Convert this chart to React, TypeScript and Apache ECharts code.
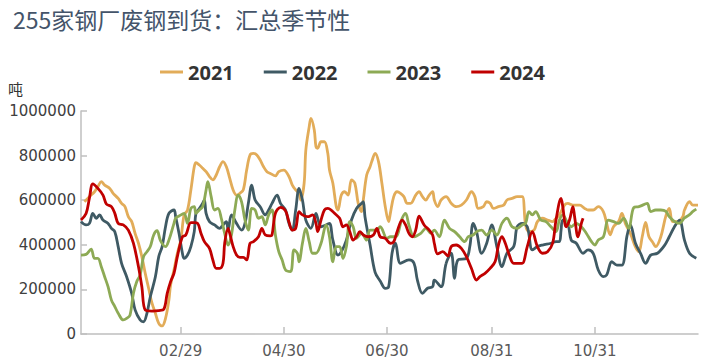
import React, { useEffect, useRef } from 'react';
import * as echarts from 'echarts';

const MONTH_DAYS = [31, 29, 31, 30, 31, 30, 31, 31, 30, 31, 30, 31];
const categories: string[] = [];
MONTH_DAYS.forEach((n, m) => {
  for (let d = 1; d <= n; d++) {
    categories.push(`${String(m + 1).padStart(2, '0')}/${String(d).padStart(2, '0')}`);
  }
});
const tickLabels = ['02/29', '04/30', '06/30', '08/31', '10/31'];
const seriesNames = ['2021', '2022', '2023', '2024'];

// day-of-year index (0 = 01/01) and values (tonnes)
const days2021 = [2,5,8,10,12,14,17,19,22,24,26,28,30,32,34,36,38,40,42,44,46,48,50,52,53,55,57,59,61,63,65,67,68,70,72,74,76,78,80,82,84,86,88,90,92,94,96,98,100,102,104,106,108,110,112,115,117,120,123,125,127,129,130,132,133,135,136,138,139,140,142,144,146,147,149,151,152,154,156,158,160,162,164,166,167,169,171,172,174,176,178,180,182,183,185,187,189,191,193,195,198,200,202,204,206,208,209,211,213,216,219,222,225,228,231,233,235,238,240,242,244,247,250,252,255,258,261,263,265,268,270,273,276,279,281,283,286,288,291,295,298,300,303,306,309,311,313,315,318,320,322,325,328,330,332,334,336,338,340,343,346,348,350,353,356,357,360,362,365];
const values2021 = [593000,616000,638000,661000,683000,668000,653000,631000,608000,586000,571000,526000,504000,451000,407000,347000,272000,205000,138000,93000,48000,36000,70000,152000,220000,287000,362000,420000,534000,556000,646000,750000,768000,758000,743000,728000,706000,691000,713000,750000,773000,750000,698000,646000,623000,631000,646000,735000,803000,810000,803000,780000,750000,728000,720000,709000,728000,735000,706000,668000,646000,631000,601000,676000,825000,930000,967000,915000,840000,833000,862000,862000,810000,735000,676000,571000,556000,623000,638000,623000,691000,676000,586000,549000,601000,713000,750000,773000,810000,773000,676000,571000,504000,541000,616000,638000,631000,616000,586000,586000,623000,638000,616000,601000,623000,638000,601000,571000,601000,616000,586000,571000,578000,601000,638000,616000,563000,571000,593000,586000,563000,571000,578000,601000,608000,616000,616000,489000,459000,466000,504000,519000,511000,504000,519000,534000,578000,586000,578000,578000,563000,556000,556000,571000,549000,496000,445000,481000,504000,541000,496000,451000,390000,369000,436000,500000,436000,414000,392000,436000,530000,563000,504000,504000,526000,556000,593000,578000,578000];

const days2022 = [0,3,5,7,9,11,13,16,18,20,22,24,27,30,32,35,37,39,41,44,46,48,50,52,55,56,58,60,61,63,65,67,68,70,72,73,74,76,79,82,84,86,87,89,92,95,97,99,101,103,106,109,111,113,116,118,121,123,125,127,129,131,133,136,139,140,142,145,147,149,152,154,157,160,163,166,167,168,171,174,177,180,182,184,186,189,194,197,199,202,205,208,209,213,216,219,221,223,228,230,232,234,237,240,243,246,249,252,256,258,261,264,267,270,273,278,281,283,284,285,288,290,293,297,300,303,306,309,311,314,317,320,323,325,328,331,334,337,341,345,348,351,354,357,360,364];
const values2022 = [504000,489000,496000,541000,519000,534000,511000,496000,474000,459000,392000,317000,257000,182000,108000,63000,55000,93000,167000,257000,347000,392000,481000,541000,556000,526000,451000,362000,339000,354000,392000,459000,541000,563000,586000,601000,541000,504000,489000,474000,489000,504000,466000,534000,496000,466000,496000,586000,668000,601000,571000,534000,556000,586000,623000,586000,556000,496000,466000,556000,653000,601000,511000,474000,541000,519000,481000,489000,496000,421000,354000,369000,421000,511000,563000,586000,593000,526000,400000,276000,238000,205000,212000,362000,407000,317000,332000,317000,242000,182000,205000,212000,242000,212000,317000,362000,250000,332000,339000,392000,496000,459000,362000,407000,489000,392000,302000,362000,392000,481000,496000,481000,377000,392000,399000,407000,414000,414000,466000,511000,496000,421000,407000,362000,377000,362000,287000,257000,265000,324000,309000,309000,440000,489000,407000,362000,317000,354000,362000,395000,436000,480000,511000,421000,362000,340000];

const days2023 = [0,3,6,8,10,12,14,16,18,20,22,25,27,29,31,33,35,37,39,41,43,45,47,50,52,55,56,58,61,63,65,67,68,70,72,74,75,77,79,81,83,85,87,89,91,93,95,97,99,101,103,105,107,109,111,113,115,117,119,121,124,126,128,129,131,133,135,137,139,142,145,147,149,151,153,155,157,159,161,163,166,169,171,175,177,181,183,186,190,192,194,197,201,204,207,209,212,215,218,221,224,227,229,232,234,237,240,243,246,249,252,255,258,261,263,265,267,269,272,275,278,281,283,285,288,290,293,296,299,302,304,306,309,312,315,318,321,324,327,330,333,335,337,340,343,346,348,351,354,357,360,362,364];
const values2023 = [354000,357000,380000,339000,339000,302000,257000,212000,152000,123000,93000,63000,70000,85000,182000,235000,265000,347000,369000,392000,444000,463000,419000,392000,421000,496000,519000,529000,541000,496000,563000,571000,541000,556000,571000,646000,683000,616000,556000,563000,519000,451000,399000,444000,556000,623000,593000,511000,466000,563000,556000,519000,526000,489000,534000,556000,444000,369000,332000,287000,280000,377000,362000,324000,407000,474000,414000,362000,362000,407000,489000,436000,324000,392000,392000,339000,392000,504000,481000,429000,451000,421000,466000,466000,481000,429000,436000,436000,519000,541000,489000,436000,451000,474000,451000,466000,436000,511000,474000,459000,436000,414000,436000,444000,459000,466000,444000,466000,444000,496000,519000,481000,474000,489000,496000,549000,534000,549000,511000,504000,481000,459000,511000,534000,496000,481000,496000,481000,451000,414000,399000,421000,436000,511000,504000,496000,519000,474000,567000,571000,580000,586000,549000,556000,556000,550000,526000,505000,496000,520000,535000,550000,560000];

const days2024 = [0,3,5,7,10,13,15,18,20,22,25,28,31,34,36,38,42,46,49,51,53,55,57,60,62,65,67,69,71,73,76,78,80,82,84,85,87,88,90,92,94,96,98,100,102,105,107,109,112,113,115,118,121,123,125,127,129,131,134,137,139,140,142,144,146,148,150,153,155,157,159,161,163,165,167,170,173,175,177,180,183,185,187,190,192,194,196,198,200,203,206,208,209,211,214,217,219,222,225,228,231,234,236,239,242,245,247,249,251,253,256,259,261,264,267,270,273,276,279,281,284,285,287,289,291,292,294,296,297];
const values2024 = [511000,540000,610000,673000,653000,623000,583000,571000,541000,496000,489000,466000,407000,302000,212000,108000,103000,105000,111000,182000,235000,272000,347000,436000,444000,499000,499000,496000,451000,414000,384000,332000,294000,294000,317000,407000,474000,451000,392000,354000,344000,344000,332000,407000,414000,436000,474000,444000,440000,444000,541000,568000,552000,503000,466000,474000,549000,534000,526000,534000,496000,459000,511000,556000,563000,556000,541000,519000,481000,489000,459000,421000,436000,459000,444000,436000,444000,474000,436000,429000,407000,414000,459000,511000,489000,451000,436000,466000,529000,489000,466000,444000,407000,359000,369000,350000,392000,399000,384000,347000,294000,242000,257000,272000,294000,325000,400000,436000,407000,362000,317000,317000,317000,392000,459000,392000,362000,369000,407000,511000,608000,571000,481000,511000,571000,526000,436000,496000,519000];

const seriesDays = [days2021, days2022, days2023, days2024];
const seriesValues = [values2021, values2022, values2023, values2024];
const seriesColors = ['#E2AC59', '#3F5A64', '#8DAA55', '#C00000'];

const showTick = (_i: number, v: string) => tickLabels.includes(v);

export default function App() {
  const ref = useRef<HTMLDivElement>(null);
  useEffect(() => {
    if (!ref.current) return;
    const chart = echarts.init(ref.current, undefined, { renderer: 'svg' });
    chart.setOption({
      animation: false,
      title: {
        text: '255家钢厂废钢到货：汇总季节性',
        left: 8,
        top: 2,
        textStyle: { fontSize: 23, fontWeight: 'normal', color: '#44546A', fontFamily: '"Noto Sans CJK SC", sans-serif' },
      },
      legend: {
        data: seriesNames,
        top: 57,
        left: 'center',
        icon: 'rect',
        itemWidth: 23,
        itemHeight: 3,
        itemGap: 30,
        textStyle: { fontSize: 20, fontWeight: 'bold', color: '#333333', fontFamily: '"Open Sans", sans-serif' },
      },
      graphic: [
        {
          type: 'text',
          left: 8,
          top: 81,
          style: { text: '吨', fontSize: 15, fill: '#333333', fontFamily: '"Noto Sans CJK SC", sans-serif' },
        },
      ],
      grid: { left: 81, right: 7, top: 111, bottom: 26, containLabel: false },
      xAxis: {
        type: 'category',
        data: categories,
        boundaryGap: false,
        axisLine: { lineStyle: { color: '#BFBFBF', width: 1.5 } },
        axisTick: { inside: true, length: 7, interval: showTick, lineStyle: { color: '#BFBFBF', width: 1.5 } },
        axisLabel: { interval: showTick, color: '#595959', fontSize: 15, fontFamily: '"DejaVu Sans", sans-serif', margin: 9 },
        splitLine: { show: false },
      },
      yAxis: {
        type: 'value',
        min: 0,
        max: 1000000,
        interval: 200000,
        axisLine: { show: true, lineStyle: { color: '#BFBFBF', width: 1.5 } },
        axisTick: { show: true, inside: true, length: 6, lineStyle: { color: '#BFBFBF', width: 1.5 } },
        axisLabel: { color: '#404040', fontSize: 15, fontFamily: '"DejaVu Sans", sans-serif', margin: 5, formatter: (v: number) => String(v) },
        splitLine: { show: false },
      },
      series: seriesNames.map((name, k) => ({
        name,
        type: 'line',
        data: seriesDays[k].map((d, i) => [categories[d], seriesValues[k][i]]),
        showSymbol: false,
        smooth: 0.35,
        lineStyle: { width: 2.8, color: seriesColors[k] },
        itemStyle: { color: seriesColors[k] },
      })),
    });
    return () => chart.dispose();
  }, []);
  return <div ref={ref} style={{ position: 'absolute', left: 0, top: 0, width: 705, height: 360 }} />;
}
